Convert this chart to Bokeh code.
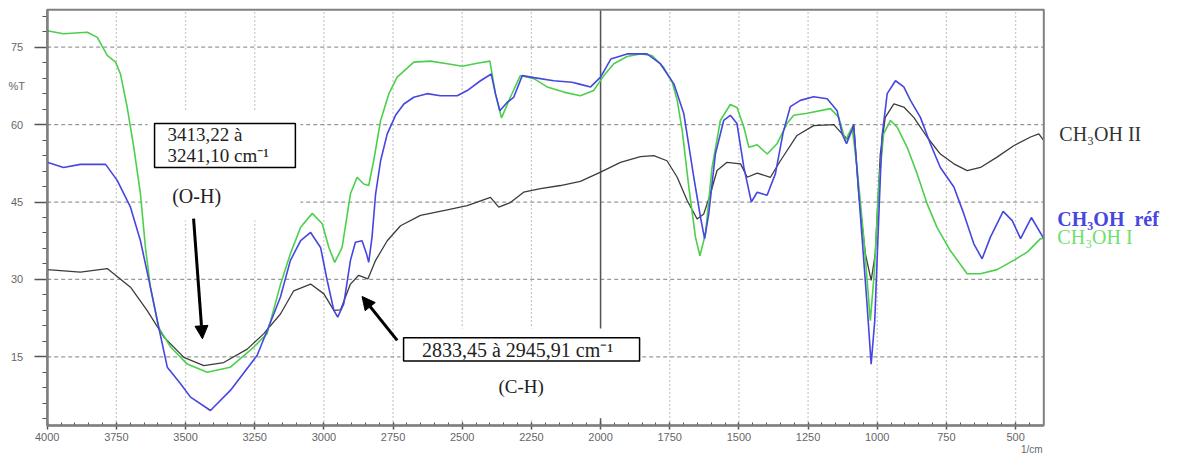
from bokeh.plotting import figure
from bokeh.models import (Range1d, SingleIntervalTicker, Label, BoxAnnotation,
                          Arrow, NormalHead, LinearAxis, ColumnDataSource)
from bokeh.core.properties import value
from bokeh.embed import file_html
from bokeh.resources import INLINE

# FTIR spectra: wavenumber (cm-1) and transmittance (%T)
wn_I = [4000, 3941, 3855, 3819, 3783, 3753, 3735, 3711, 3687, 3663, 3645, 3627, 3597, 3554,
        3494, 3422, 3338, 3253, 3205, 3157, 3121, 3084, 3042, 3006, 2982, 2961, 2934, 2904,
        2880, 2856, 2838, 2820, 2795, 2765, 2735, 2675, 2615, 2554, 2500, 2446, 2400, 2380,
        2358, 2326, 2290, 2241, 2193, 2133, 2073, 2025, 1988, 1952, 1904, 1856, 1814, 1772,
        1741, 1723, 1705, 1681, 1657, 1641, 1621, 1597, 1567, 1531, 1507, 1482, 1464, 1434,
        1398, 1362, 1326, 1302, 1253, 1169, 1139, 1115, 1091, 1073, 1049, 1025, 1011, 995,
        977, 952, 928, 892, 856, 820, 784, 736, 675, 627, 567, 507, 458, 410, 398]
t_I = [78.2, 77.6, 77.9, 76.9, 73.4, 72.1, 69.8, 63.4, 55.6, 46.6, 36.2, 28.5, 20.7, 16.9,
       13.6, 12.0, 13.0, 16.9, 19.5, 29.0, 35.0, 40.1, 42.8, 40.8, 36.2, 33.3, 36.2, 46.6,
       49.8, 48.5, 48.2, 53.0, 60.8, 66.0, 69.2, 72.1, 72.3, 71.8, 71.3, 71.9, 72.3, 66.0,
       61.3, 65.3, 69.5, 68.9, 67.3, 66.3, 65.6, 66.6, 69.5, 71.8, 73.2, 73.7, 73.4, 71.1,
       68.2, 64.7, 58.9, 47.9, 38.2, 34.6, 38.8, 51.7, 60.8, 63.9, 63.3, 59.5, 55.6, 56.1,
       54.3, 56.3, 60.2, 61.8, 62.2, 63.1, 61.4, 56.9, 59.5, 51.7, 38.2, 22.0, 31.1, 47.9,
       58.2, 60.8, 59.5, 55.6, 50.5, 44.7, 40.1, 35.6, 31.1, 31.1, 31.9, 33.7, 35.3, 37.9, 38.0]

wn_ref = [4000, 3941, 3880, 3789, 3747, 3699, 3663, 3627, 3602, 3566, 3518, 3482, 3410, 3338,
          3241, 3181, 3157, 3121, 3084, 3048, 3012, 2988, 2964, 2950, 2928, 2904, 2886, 2862,
          2846, 2838, 2826, 2813, 2795, 2771, 2741, 2711, 2675, 2627, 2579, 2518, 2482, 2434,
          2395, 2380, 2364, 2338, 2314, 2283, 2241, 2169, 2103, 2073, 2036, 2000, 1963, 1904,
          1832, 1784, 1735, 1699, 1663, 1639, 1624, 1609, 1585, 1555, 1531, 1507, 1482, 1455,
          1434, 1398, 1368, 1340, 1314, 1278, 1230, 1181, 1145, 1127, 1111, 1097, 1085, 1073,
          1055, 1037, 1022, 1009, 995, 983, 964, 934, 904, 880, 844, 808, 772, 723, 687, 651,
          621, 591, 545, 512, 482, 443, 398]
t_ref = [52.7, 51.7, 52.3, 52.3, 49.2, 44.0, 37.5, 28.5, 22.0, 13.0, 9.8, 7.2, 4.6, 8.5,
         15.3, 23.3, 26.6, 33.7, 37.5, 39.1, 36.2, 29.8, 24.0, 22.7, 25.3, 33.7, 37.2, 37.5,
         35.0, 33.3, 38.2, 46.6, 53.0, 58.2, 61.8, 64.0, 65.3, 66.0, 65.6, 65.6, 66.6, 68.5,
         69.8, 66.0, 62.7, 64.3, 65.3, 69.5, 69.1, 68.5, 68.2, 67.8, 67.3, 69.2, 72.7, 73.7,
         73.7, 71.8, 67.9, 62.1, 49.8, 42.1, 37.9, 42.7, 54.3, 60.8, 61.8, 60.2, 51.7, 45.0,
         46.9, 46.3, 50.5, 58.5, 63.5, 64.7, 65.4, 65.0, 62.7, 58.2, 56.3, 58.2, 59.8, 51.1,
         38.2, 25.3, 13.6, 22.0, 41.4, 57.6, 66.0, 68.5, 67.3, 64.7, 61.4, 56.3, 51.7, 47.9,
         42.7, 36.9, 34.0, 38.2, 43.2, 41.4, 37.9, 42.0, 37.9]

wn_II = [4000, 3880, 3783, 3699, 3639, 3578, 3506, 3434, 3362, 3277, 3217, 3157, 3109, 3048,
         3000, 2964, 2940, 2904, 2874, 2841, 2813, 2771, 2723, 2651, 2554, 2482, 2398, 2368,
         2326, 2278, 2217, 2145, 2073, 2000, 1928, 1856, 1808, 1760, 1723, 1687, 1651, 1627,
         1603, 1579, 1543, 1494, 1470, 1434, 1386, 1350, 1290, 1230, 1157, 1127, 1108, 1085,
         1067, 1043, 1022, 1007, 989, 971, 940, 904, 868, 820, 772, 723, 675, 627, 567, 507,
         446, 416, 398]
t_II = [31.9, 31.4, 32.1, 28.5, 24.0, 18.8, 14.9, 13.3, 13.9, 16.5, 19.5, 23.3, 27.8, 29.1,
        27.2, 24.0, 24.1, 29.1, 30.8, 30.1, 33.7, 37.5, 40.4, 42.4, 43.5, 44.3, 45.9, 44.0,
        44.9, 46.9, 47.6, 48.2, 49.0, 50.8, 52.7, 53.8, 54.0, 53.0, 49.8, 45.3, 41.7, 42.7,
        46.6, 51.1, 52.7, 52.4, 49.8, 50.6, 49.8, 53.0, 57.9, 59.8, 60.0, 58.2, 57.2, 60.0,
        46.6, 35.0, 29.8, 35.0, 54.3, 61.4, 64.0, 63.4, 61.4, 57.6, 54.3, 52.4, 51.1, 51.7,
        53.7, 55.9, 57.6, 58.2, 56.9]

series_names = ["CH₃OH II", "CH₃OH\u00a0\u00a0réf", "CH₃OH I"]
series_colors = ["#3c3c3c", "#4646e0", "#4cd04c"]
name_colors = ["#333333", "#4646e0", "#6ee06e"]
name_styles = ["normal", "bold", "normal"]

x_major = [3750, 3500, 3250, 3000, 2750, 2500, 2250, 2000, 1750, 1500, 1250, 1000, 750, 500]
y_major = [15, 30, 45, 60, 75]

# plotting window (wavenumber runs right to left)
X0, X1 = 4000, 398
Y0, Y1 = 1.7, 82.25

p = figure(width=1177, height=454, output_backend="svg", toolbar_location=None,
           x_range=Range1d(4168.8, -85.2), y_range=Range1d(-3.92, 84.05),
           x_axis_type=None, y_axis_type=None,
           min_border_left=0, min_border_right=0, min_border_top=0, min_border_bottom=0,
           background_fill_color="white", border_fill_color="white")
p.outline_line_color = None
p.grid.visible = False

# grid: dashed horizontals, dotted verticals
p.segment(x0=[X0] * len(y_major), x1=[X1] * len(y_major), y0=y_major, y1=y_major,
          line_color="#999999", line_dash="4 3", line_width=1.3, level="underlay")
p.segment(x0=x_major, x1=x_major, y0=[Y0] * len(x_major), y1=[Y1] * len(x_major),
          line_color="#999999", line_dash="1 3", line_width=1.3, level="underlay")
# cursor line at 2000 cm-1
p.segment(x0=[2000], x1=[2000], y0=[Y0], y1=[Y1], line_color="#555555",
          line_width=1.5, level="underlay")

# spectra
p.line(wn_II, t_II, line_color=series_colors[0], line_width=1.3)
p.line(wn_I, t_I, line_color=series_colors[2], line_width=1.6)
p.line(wn_ref, t_ref, line_color=series_colors[1], line_width=1.6)

# frame
p.add_layout(BoxAnnotation(left=X0, right=X1, top=Y1, bottom=Y0, fill_alpha=0,
                           line_color="#808080", line_alpha=1.0, line_width=2))

# axes drawn at the frame edges
xaxis = LinearAxis(fixed_location=Y0, bounds=(X1, X0),
                   ticker=SingleIntervalTicker(interval=250, num_minor_ticks=5))
yaxis = LinearAxis(fixed_location=X0, bounds=(Y0, Y1),
                   ticker=SingleIntervalTicker(interval=15, num_minor_ticks=5))
for ax in (xaxis, yaxis):
    ax.axis_line_color = "#555555"
    ax.axis_line_width = 2
    ax.major_tick_line_color = "#555555"
    ax.minor_tick_line_color = "#555555"
    ax.major_tick_line_width = 1.5
    ax.major_label_text_font = "Liberation Sans"
    ax.major_label_text_font_size = "11px"
    ax.major_label_text_color = "#666666"
xaxis.major_tick_in = 3
xaxis.major_tick_out = 4
xaxis.minor_tick_in = 3
xaxis.minor_tick_out = 0
xaxis.major_label_standoff = 4
yaxis.major_tick_in = 0
yaxis.major_tick_out = 13
yaxis.minor_tick_in = 0
yaxis.minor_tick_out = 5
yaxis.major_label_standoff = 11
p.add_layout(xaxis, "below")
p.add_layout(yaxis, "left")

# text boxes (white backgrounds hide the grid behind the annotations)
p.add_layout(BoxAnnotation(left=3637, right=3085, top=62.7, bottom=41.4,
                           fill_color="white", fill_alpha=1.0, line_color=None))
p.add_layout(BoxAnnotation(left=2723, right=1856, top=20.5, bottom=3.1,
                           fill_color="white", fill_alpha=1.0, line_color=None))
p.add_layout(BoxAnnotation(left=3612, right=3103, top=60.2, bottom=51.7,
                           fill_color="white", fill_alpha=1.0,
                           line_color="black", line_alpha=1.0, line_width=1.5))
p.add_layout(BoxAnnotation(left=2712, right=1859, top=18.7, bottom=14.2,
                           fill_color="white", fill_alpha=1.0,
                           line_color="black", line_alpha=1.0, line_width=1.5))

serif = "Liberation Serif"
def add_text(x, y, text, size="19px", color="#222222", align="left"):
    p.add_layout(Label(x=x, y=y, text=text, text_font=serif, text_font_size=size,
                       text_color=color, text_align=align, text_baseline="middle"))

add_text(3565, 58.1, "3413,22 à")
add_text(3565, 54.0, "3241,10 cm⁻¹")
add_text(3460, 46.1, "(O-H)", size="20px", align="center")
add_text(2300, 16.4, "2833,45 à 2945,91 cm⁻¹", size="20px", align="center")
add_text(2287, 9.2, "(C-H)", align="center")

# arrows pointing at the O-H and C-H bands
p.add_layout(Arrow(end=NormalHead(size=13, fill_color="black", line_color="black"),
                   x_start=3471, y_start=41.8, x_end=3439, y_end=18.5,
                   line_width=3, line_color="black"))
p.add_layout(Arrow(end=NormalHead(size=13, fill_color="black", line_color="black"),
                   x_start=2735, y_start=18.2, x_end=2862, y_end=26.7,
                   line_width=3, line_color="black"))

# series names at the right end
names = ColumnDataSource(dict(x=[342, 349, 349], y=[58.2, 41.7, 38.2],
                              text=series_names, color=name_colors, style=name_styles))
p.text(x="x", y="y", text="text", text_color="color", text_font_style="style",
       text_font=value(serif), text_font_size="20px", text_baseline="middle",
       source=names)

# axis titles
p.add_layout(Label(x=4140, y=67.4, text="%T", text_font="Liberation Sans",
                   text_font_size="11px", text_color="#666666", text_baseline="middle"))
p.add_layout(Label(x=402, y=-3.0, text="1/cm", text_font="Liberation Sans",
                   text_font_size="10px", text_color="#666666", text_align="right",
                   text_baseline="middle"))

open("out.html", "w").write(file_html(p, INLINE))
